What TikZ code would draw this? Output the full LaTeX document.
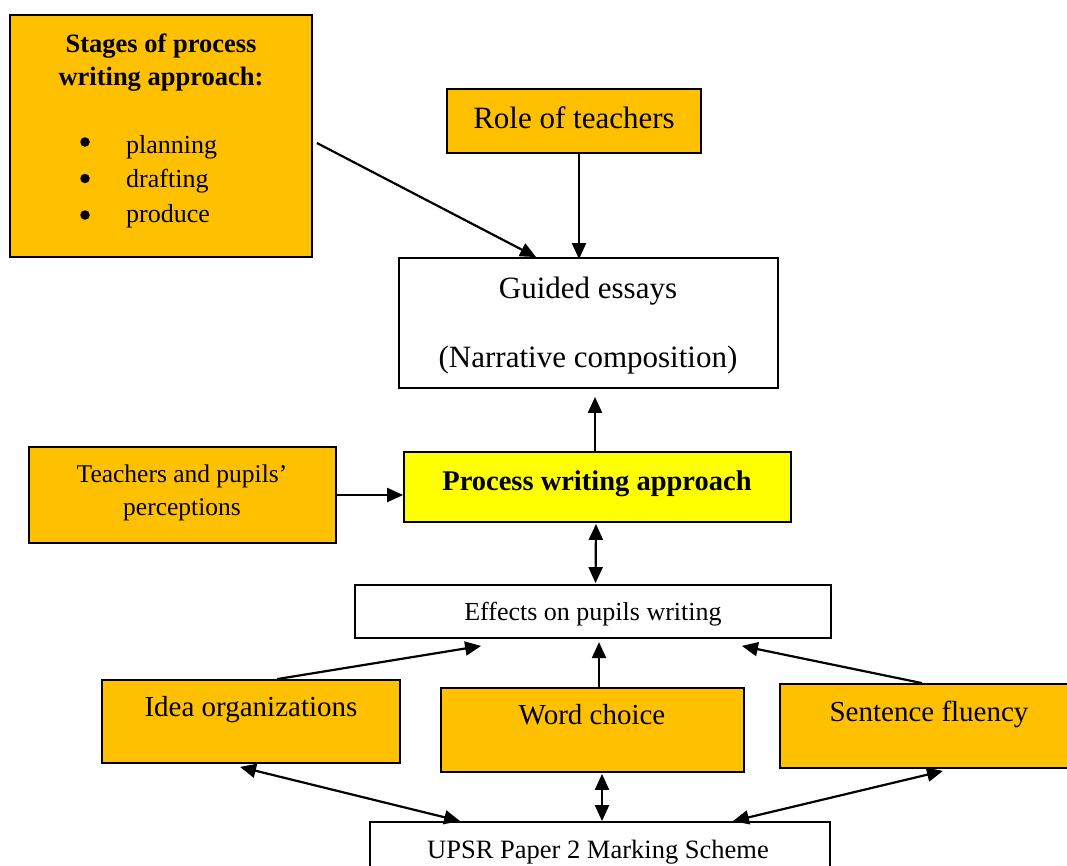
\documentclass[tikz,border=0pt]{standalone}
\usepackage{fontspec}
\setmainfont{Liberation Serif}
\usetikzlibrary{arrows.meta,calc}
\definecolor{gold}{HTML}{FFC000}
\definecolor{yel}{HTML}{FFFF00}
\begin{document}
\begin{tikzpicture}[x=1pt,y=-1pt,
  box/.style={draw, line width=1.8pt, inner sep=0pt},
  gbox/.style={box, fill=gold},
  txt/.style={inner sep=0pt, anchor=base},
  dot/.style={circle, fill=black, inner sep=0pt, minimum size=9.5pt},
  arr/.style={line width=2.2pt, -{Triangle[length=16pt,width=14pt]}},
  darr/.style={line width=2.2pt, {Triangle[length=16pt,width=14pt]}-{Triangle[length=16pt,width=14pt]}}]
\useasboundingbox (0,0) rectangle (1067,865);
\fill[white] (0,0) rectangle (1067,865);

% boxes
\node[gbox, minimum width=302, minimum height=242] (stages) at (161,136) {};
\node[gbox, minimum width=254, minimum height=64] (role) at (574,121) {};
\node[box, fill=white, minimum width=379, minimum height=130] (guided) at (588.5,323) {};
\node[gbox, minimum width=307, minimum height=96] (teach) at (182.5,495) {};
\node[box, fill=yel, minimum width=387, minimum height=70] (proc) at (597.5,487) {};
\node[box, fill=white, minimum width=476, minimum height=53] (effects) at (593,611.5) {};
\node[gbox, minimum width=298, minimum height=83] (idea) at (251,721.5) {};
\node[gbox, minimum width=303, minimum height=84] (word) at (592.5,730) {};
\node[gbox, minimum width=295, minimum height=84] (sent) at (927.5,726) {};
\node[box, fill=white, minimum width=460, minimum height=68] (upsr) at (600,856) {};

% texts
\node[txt] (st1) at (161,52) {\fontsize{26.5}{32}\selectfont\bfseries Stages of process};
\node[txt] (st2) at (161,85) {\fontsize{26.5}{32}\selectfont\bfseries writing approach:};
\node[dot] (b1) at (85,142) {};
\node[dot] (b2) at (85,178.5) {};
\node[dot] (b3) at (85,215) {};
\node[txt, anchor=base west] (l1) at (126,153) {\fontsize{26}{30}\selectfont planning};
\node[txt, anchor=base west] (l2) at (126,187) {\fontsize{26}{30}\selectfont drafting};
\node[txt, anchor=base west] (l3) at (126,222) {\fontsize{26}{30}\selectfont produce};
\node[txt] (roleT) at (574,128) {\fontsize{31}{36}\selectfont Role of teachers};
\node[txt] (g1) at (588,298) {\fontsize{31}{36}\selectfont Guided essays};
\node[txt] (g2) at (588,367) {\fontsize{31}{36}\selectfont (Narrative composition)};
\node[txt] (t1) at (182,482) {\fontsize{25.5}{30}\selectfont Teachers and pupils’};
\node[txt] (t2) at (182,515) {\fontsize{25.5}{30}\selectfont perceptions};
\node[txt] (pT) at (597,490) {\fontsize{28.5}{33}\selectfont\bfseries Process writing approach};
\node[txt] (eT) at (593,620) {\fontsize{26}{30}\selectfont Effects on pupils writing};
\node[txt] (iT) at (251,716) {\fontsize{29}{34}\selectfont Idea organizations};
\node[txt] (wT) at (592,724) {\fontsize{29}{34}\selectfont Word choice};
\node[txt] (sT) at (929,721) {\fontsize{29}{34}\selectfont Sentence fluency};
\node[txt] (uT) at (598,858) {\fontsize{26.5}{30}\selectfont UPSR Paper 2 Marking Scheme};

% connectors
\draw[arr] ($(stages.east)+(4,7)$) -- ($(guided.north west)+(138,0)$);
\draw[arr] ($(role.south)+(5,0)$) -- ($(guided.north)+(-9.5,2)$);
\draw[arr] ($(proc.north)+(-2.5,0)$) -- ($(guided.south)+(6.5,8)$);
\draw[arr] (teach.east) -- (teach.east -| proc.west);
\draw[darr] ($(proc.south)+(-1.5,1)$) -- ($(effects.north)+(2.5,-1)$);
\draw[arr] ($(idea.north)+(26,0)$) -- ($(effects.south west)+(127,7)$);
\draw[arr] ($(word.north)+(6.5,0)$) -- ($(word.north)+(6.5,-45)$);
\draw[arr] ($(sent.north)+(-5.5,0)$) -- ($(effects.south east)+(-90,7)$);
\draw[darr] ($(idea.south)+(-11,3)$) -- ($(upsr.north west)+(91,0)$);
\draw[darr] ($(word.south)+(9.5,1)$) -- ($(upsr.north)+(2,0)$);
\draw[darr] ($(sent.south)+(15.5,2)$) -- ($(upsr.north east)+(-98,0)$);
\end{tikzpicture}
\end{document}
